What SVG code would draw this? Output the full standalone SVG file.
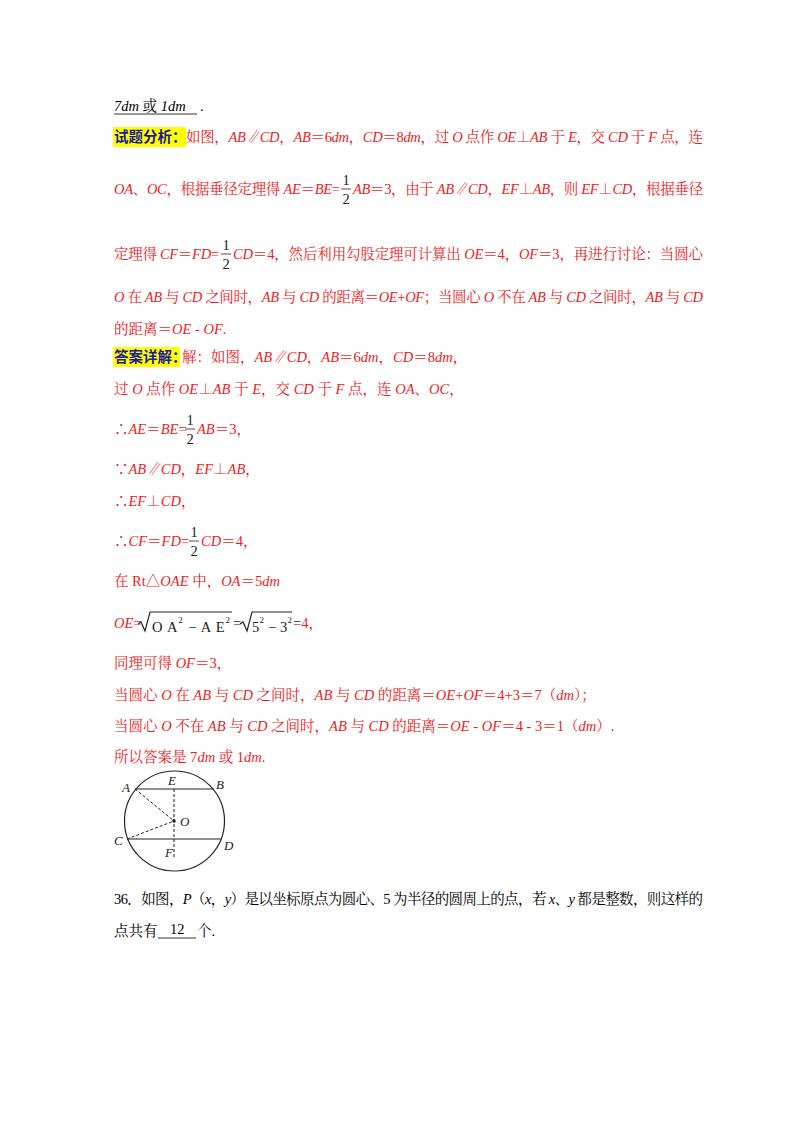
<svg xmlns="http://www.w3.org/2000/svg" width="800" height="1132" viewBox="0 0 800 1132">
<style>
text{font-family:"Liberation Serif","Noto Serif CJK SC","Noto Sans CJK SC",serif;font-size:14.5px;fill:#ee1c25}
.k{fill:#000}
.i{font-style:italic}
.h{fill:#1a1a9a;font-weight:bold;font-family:"Noto Sans CJK SC",sans-serif}
.m{fill:#222;font-family:"Liberation Serif",serif}
.d{stroke:#222;stroke-dasharray:3,2;fill:none}
.s{stroke:#222;fill:none;stroke-width:1.2}
.lbl{fill:#222;font-style:italic;font-size:13px}
</style>
<rect width="800" height="1132" fill="#fff"/>
<g id="answer-line">
<text x="114" y="111" class="k"><tspan class="i">7dm</tspan> 或 <tspan class="i">1dm</tspan></text>
<line x1="114" y1="114" x2="197" y2="114" stroke="#000" stroke-width="0.8"/>
<text x="200" y="111" class="k">.</text>
</g>
<g id="analysis">
<rect x="113" y="127" width="73" height="20" fill="#ffff00"/>
<text x="114" y="142" class="h">试题分析：</text>
<text x="186" y="142" textLength="517" lengthAdjust="spacing">如图，<tspan class="i">AB∥CD</tspan>，<tspan class="i">AB</tspan>＝6<tspan class="i">dm</tspan>，<tspan class="i">CD</tspan>＝8<tspan class="i">dm</tspan>，过 <tspan class="i">O</tspan> 点作 <tspan class="i">OE</tspan>⊥<tspan class="i">AB</tspan> 于 <tspan class="i">E</tspan>，交 <tspan class="i">CD</tspan> 于 <tspan class="i">F</tspan> 点，连</text>
<text x="114" y="194" textLength="226" lengthAdjust="spacing"><tspan class="i">OA</tspan>、<tspan class="i">OC</tspan>，根据垂径定理得 <tspan class="i">AE</tspan>＝<tspan class="i">BE</tspan>=</text>
<text x="346" y="185" text-anchor="middle" class="m">1</text>
<line x1="341" y1="189" x2="351" y2="189" stroke="#222" stroke-width="0.8"/>
<text x="346" y="204" text-anchor="middle" class="m">2</text>
<text x="353" y="194" textLength="350" lengthAdjust="spacing"><tspan class="i">AB</tspan>＝3，由于 <tspan class="i">AB∥CD</tspan>，<tspan class="i">EF</tspan>⊥<tspan class="i">AB</tspan>，则 <tspan class="i">EF</tspan>⊥<tspan class="i">CD</tspan>，根据垂径</text>
<text x="114" y="259" textLength="105" lengthAdjust="spacing">定理得 <tspan class="i">CF</tspan>＝<tspan class="i">FD</tspan>=</text>
<text x="226" y="250" text-anchor="middle" class="m">1</text>
<line x1="221" y1="254" x2="231" y2="254" stroke="#222" stroke-width="0.8"/>
<text x="226" y="269" text-anchor="middle" class="m">2</text>
<text x="233" y="259" textLength="470" lengthAdjust="spacing"><tspan class="i">CD</tspan>＝4，然后利用勾股定理可计算出 <tspan class="i">OE</tspan>＝4，<tspan class="i">OF</tspan>＝3，再进行讨论：当圆心</text>
<text x="114" y="302" textLength="589" lengthAdjust="spacing"><tspan class="i">O</tspan> 在 <tspan class="i">AB</tspan> 与 <tspan class="i">CD</tspan> 之间时，<tspan class="i">AB</tspan> 与 <tspan class="i">CD</tspan> 的距离＝<tspan class="i">OE</tspan>+<tspan class="i">OF</tspan>；当圆心 <tspan class="i">O</tspan> 不在 <tspan class="i">AB</tspan> 与 <tspan class="i">CD</tspan> 之间时，<tspan class="i">AB</tspan> 与 <tspan class="i">CD</tspan></text>
<text x="114" y="334">的距离＝<tspan class="i">OE</tspan> - <tspan class="i">OF</tspan>.</text>
</g>
<g id="solution">
<rect x="113" y="347" width="67" height="20" fill="#ffff00"/>
<text x="114" y="362" class="h">答案详解：</text>
<text x="182" y="362">解：如图，<tspan class="i">AB∥CD</tspan>，<tspan class="i">AB</tspan>＝6<tspan class="i">dm</tspan>，<tspan class="i">CD</tspan>＝8<tspan class="i">dm</tspan>，</text>
<text x="114" y="394">过 <tspan class="i">O</tspan> 点作 <tspan class="i">OE</tspan>⊥<tspan class="i">AB</tspan> 于 <tspan class="i">E</tspan>，交 <tspan class="i">CD</tspan> 于 <tspan class="i">F</tspan> 点，连 <tspan class="i">OA</tspan>、<tspan class="i">OC</tspan>，</text>
<text x="114" y="434">∴<tspan class="i">AE</tspan>＝<tspan class="i">BE</tspan>=</text>
<text x="190" y="425" text-anchor="middle" class="m">1</text>
<line x1="185" y1="429" x2="195" y2="429" stroke="#222" stroke-width="0.8"/>
<text x="190" y="444" text-anchor="middle" class="m">2</text>
<text x="197" y="434"><tspan class="i">AB</tspan>＝3，</text>
<text x="114" y="474">∵<tspan class="i">AB∥CD</tspan>，<tspan class="i">EF</tspan>⊥<tspan class="i">AB</tspan>，</text>
<text x="114" y="506">∴<tspan class="i">EF</tspan>⊥<tspan class="i">CD</tspan>，</text>
<text x="114" y="546">∴<tspan class="i">CF</tspan>＝<tspan class="i">FD</tspan>=</text>
<text x="194" y="537" text-anchor="middle" class="m">1</text>
<line x1="189" y1="541" x2="199" y2="541" stroke="#222" stroke-width="0.8"/>
<text x="194" y="556" text-anchor="middle" class="m">2</text>
<text x="201" y="546"><tspan class="i">CD</tspan>＝4，</text>
<text x="114" y="586">在 Rt△<tspan class="i">OAE</tspan> 中，<tspan class="i">OA</tspan>＝5<tspan class="i">dm</tspan></text>
<text x="114" y="628"><tspan class="i">OE</tspan>=</text>
<path d="M138,624 l3,-2 l4,9 l5,-19 h82" class="s" stroke-width="0.9"/>
<text x="152" y="632" class="m" font-size="16" textLength="78" lengthAdjust="spacing">O A<tspan font-size="9" dy="-9">2</tspan><tspan dy="9"> − A E</tspan><tspan font-size="9" dy="-9">2</tspan></text>
<text x="233" y="628" class="m">=</text>
<path d="M240,624 l3,-2 l4,9 l5,-19 h40" class="s" stroke-width="0.9"/>
<text x="252" y="632" class="m" font-size="16" textLength="40" lengthAdjust="spacing">5<tspan font-size="9" dy="-9">2</tspan><tspan dy="9"> − 3</tspan><tspan font-size="9" dy="-9">2</tspan></text>
<text x="293" y="628"><tspan class="m">=</tspan>4，</text>
<text x="114" y="668">同理可得 <tspan class="i">OF</tspan>＝3，</text>
<text x="114" y="700">当圆心 <tspan class="i">O</tspan> 在 <tspan class="i">AB</tspan> 与 <tspan class="i">CD</tspan> 之间时，<tspan class="i">AB</tspan> 与 <tspan class="i">CD</tspan> 的距离＝<tspan class="i">OE</tspan>+<tspan class="i">OF</tspan>＝4+3＝7（<tspan class="i">dm</tspan>）；</text>
<text x="114" y="731">当圆心 <tspan class="i">O</tspan> 不在 <tspan class="i">AB</tspan> 与 <tspan class="i">CD</tspan> 之间时，<tspan class="i">AB</tspan> 与 <tspan class="i">CD</tspan> 的距离＝<tspan class="i">OE</tspan> - <tspan class="i">OF</tspan>＝4 - 3＝1（<tspan class="i">dm</tspan>）.</text>
<text x="114" y="762">所以答案是 7<tspan class="i">dm</tspan> 或 1<tspan class="i">dm</tspan>.</text>
</g>
<g id="figure">
<circle cx="174.5" cy="821" r="50" class="s"/>
<line x1="135" y1="789" x2="214" y2="789" class="s"/>
<line x1="127" y1="839" x2="221" y2="839" class="s"/>
<line x1="174" y1="789" x2="174" y2="857" class="d"/>
<line x1="135" y1="789" x2="174" y2="821" class="d"/>
<line x1="127" y1="839" x2="174" y2="821" class="d"/>
<circle cx="174" cy="821" r="1.8" fill="#222"/>
<text x="122" y="792" class="lbl">A</text>
<text x="168" y="785" class="lbl">E</text>
<text x="216" y="789" class="lbl">B</text>
<text x="180" y="826" class="lbl">O</text>
<text x="114" y="845" class="lbl">C</text>
<text x="165" y="857" class="lbl">F</text>
<text x="224" y="850" class="lbl">D</text>
</g>
<g id="q36">
<text x="114" y="904" class="k" textLength="589" lengthAdjust="spacing">36．如图，<tspan class="i">P</tspan>（<tspan class="i">x</tspan>，<tspan class="i">y</tspan>）是以坐标原点为圆心、5 为半径的圆周上的点，若 <tspan class="i">x</tspan>、<tspan class="i">y</tspan> 都是整数，则这样的</text>
<text x="114" y="936" class="k">点共有</text>
<text x="170" y="934" class="k">12</text>
<line x1="158" y1="938" x2="196" y2="938" stroke="#000" stroke-width="0.8"/>
<text x="197" y="936" class="k">个.</text>
</g>
</svg>
